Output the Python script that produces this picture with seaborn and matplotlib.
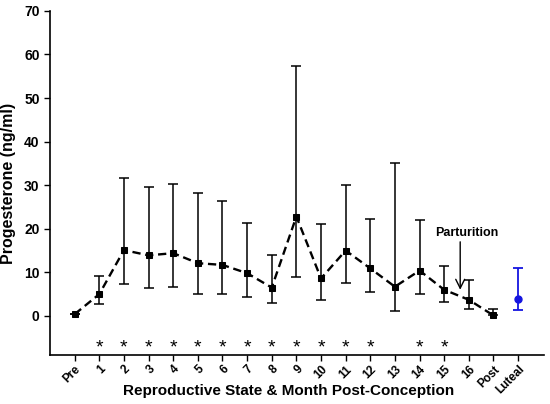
import matplotlib
matplotlib.use("Agg")
import matplotlib.pyplot as plt
import seaborn as sns
import numpy as np
import pandas as pd

categories = ["Pre", "1", "2", "3", "4", "5", "6", "7", "8", "9", "10",
              "11", "12", "13", "14", "15", "16", "Post"]
means = [0.4, 5.0, 15.1, 13.9, 14.4, 12.1, 11.7, 9.8, 6.5, 22.8, 8.6,
         15.0, 10.9, 6.7, 10.4, 6.0, 3.7, 0.1]
lower = [0.4, 2.8, 7.3, 6.5, 6.7, 5.1, 5.1, 4.4, 3.0, 9.0, 3.7,
         7.5, 5.4, 1.2, 5.0, 3.1, 1.6, 0.1]
upper = [0.4, 9.2, 31.7, 29.6, 30.3, 28.2, 26.4, 21.3, 13.9, 57.3, 21.1,
         30.0, 22.2, 35.2, 21.9, 11.5, 8.3, 1.6]
luteal_label = "Luteal"
luteal_mean = 3.8
luteal_lower = 1.3
luteal_upper = 11.1
star_months = ["1", "2", "3", "4", "5", "6", "7", "8", "9", "10", "11", "12", "14", "15"]

sns.set_style("ticks")
plt.rcParams['font.family'] = ['Liberation Sans', 'DejaVu Sans']
plt.rcParams['font.weight'] = 'bold'
for k in ["text.color", "axes.labelcolor", "xtick.color", "ytick.color", "axes.edgecolor"]:
    plt.rcParams[k] = "black"

fig = plt.figure(figsize=(5.5, 4.04), dpi=100)
ax = fig.add_axes([0.091, 0.121, 0.898, 0.852])

all_labels = categories + [luteal_label]
pos = {c: i for i, c in enumerate(all_labels)}
df = pd.DataFrame({"x": [pos[c] for c in categories], "y": means})

m = np.array(means); lo = np.array(lower); up = np.array(upper)
ax.errorbar(df["x"], m, yerr=[m - lo, up - m], fmt="none", ecolor="black",
            elinewidth=1.1, capsize=3.5, capthick=1.1, zorder=2)
sns.lineplot(data=df, x="x", y="y", ax=ax, color="black", linestyle=(0, (3.5, 2)),
             linewidth=1.7, marker="s", markersize=5, markeredgecolor="black",
             zorder=3)
lx = pos[luteal_label]
ax.errorbar([lx], [luteal_mean], yerr=[[luteal_mean - luteal_lower], [luteal_upper - luteal_mean]],
            fmt="o", color="#1515e0", markersize=5, elinewidth=1.3, capsize=3.5,
            capthick=1.3, zorder=3)

for s in star_months:
    ax.text(pos[s], -7.4, "*", ha="center", va="center", fontsize=14,
            fontweight="normal", color="black")

ax.text(15.9, 19.0, "Parturition", ha="center", va="center", fontsize=9,
        fontweight="bold")
ax.annotate("", xy=(15.65, 6.0), xytext=(15.65, 17.0),
            arrowprops=dict(arrowstyle="->", color="black", lw=1.0,
                            shrinkA=0, shrinkB=0, mutation_scale=16))

ax.set_xlim(-1, 19.05)
ax.set_ylim(-9, 70)
ax.set_yticks(range(0, 71, 10))
ax.set_xticks(range(len(all_labels)))
ax.set_xticklabels(all_labels, rotation=45, ha="right", rotation_mode="anchor",
                   fontsize=8.5, fontweight="bold")
for t in ax.get_yticklabels():
    t.set_fontsize(10); t.set_fontweight("bold")
ax.tick_params(direction="out", length=4, width=1.0, colors="black")
ax.tick_params(axis="x", pad=2)
for sp in ["left", "bottom"]:
    ax.spines[sp].set_linewidth(1.2)
    ax.spines[sp].set_color("black")
sns.despine(ax=ax)
ax.set_xlabel("Reproductive State & Month Post-Conception", fontsize=11,
              fontweight="bold")
ax.xaxis.set_label_coords(0.484, -0.083)
ax.set_ylabel("Progesterone (ng/ml)", fontsize=11.5, fontweight="bold", labelpad=6)

fig.savefig("out.png", dpi=100)
